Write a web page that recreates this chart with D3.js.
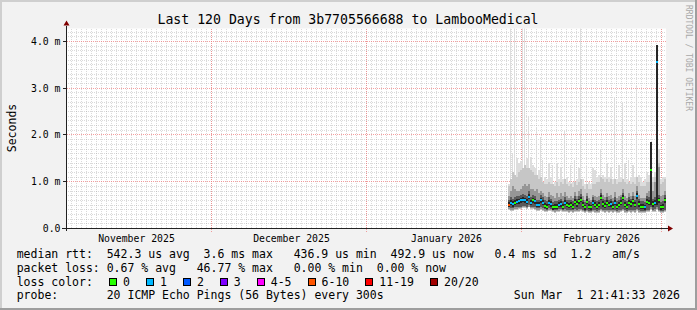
<!DOCTYPE html>
<html>
<head>
<meta charset="utf-8">
<script src="https://cdn.jsdelivr.net/npm/d3@7"></script>
<style>
  html, body { margin: 0; padding: 0; background: #f2f2f2; }
  svg { display: block; }
  text { font-family: "DejaVu Sans Mono", monospace; fill: #000; white-space: pre; }
</style>
</head>
<body>
<svg id="chart" width="697" height="310"></svg>
<script>
// time window of the graph (120 days ending at the graph timestamp)
const endTime = new Date(Date.UTC(2026, 2, 1, 21, 41, 33));
const startTime = new Date(endTime.getTime() - 120 * 864e5);

// y axis
const yMax = 4.278;
const yTicks = [0, 1, 2, 3, 4];
const yTickLabels = ["0.0", "1.0 m", "2.0 m", "3.0 m", "4.0 m"];

// x axis month labels
const monthLabels = ["November 2025", "December 2025", "January 2026", "February 2026"];
const monthLabelDates = [
  new Date(Date.UTC(2025, 10, 16)),
  new Date(Date.UTC(2025, 11, 17)),
  new Date(Date.UTC(2026, 0, 17)),
  new Date(Date.UTC(2026, 1, 17))
];

// samples: one every 9.6 hours from dataStart (values in ms)
const dataStart = new Date(Date.UTC(2026, 0, 29, 7, 0));
const stepHours = 9.6;
const median = [0.50,0.55,0.52,0.55,0.57,0.58,0.60,0.61,0.60,0.57, 0.68,0.55,0.60,0.58,0.50,0.50,0.60,0.55,0.48,0.46,
  0.55,0.52,0.45,0.46,0.47,0.50,0.52,0.47,0.55,0.50, 0.48,0.50,0.46,0.57,0.52,0.58,0.62,0.50,0.45,0.57,
  0.47,0.45,0.55,0.50,0.47,0.50,0.65,0.52,0.48,0.55, 0.50,0.52,0.47,0.55,0.46,0.50,0.55,0.65,0.50,0.47,
  0.55,0.52,0.58,0.50,0.69,0.52,0.46,0.47,0.45,0.57, 0.55,1.25,0.52,0.55,3.57,0.60,0.45,0.46,0.60,0.48];
const lossCount = [9,1,1,0,1,1,1,1,1,1, 1,1,0,1,1,1,1,1,0,0,
  1,1,0,0,0,1,1,0,1,0, 0,0,0,0,0,0,0,0,0,0,
  0,0,1,0,0,0,0,0,0,0, 0,1,0,1,0,0,0,0,0,0,
  0,0,0,0,1,0,0,0,1,0, 0,0,0,1,1,0,0,0,0,0];
const pingMin = [0.40,0.38,0.38,0.40,0.40,0.42,0.42,0.44,0.44,0.42, 0.45,0.42,0.42,0.40,0.38,0.38,0.40,0.38,0.36,0.35,
  0.38,0.37,0.35,0.34,0.35,0.36,0.37,0.35,0.36,0.35, 0.34,0.35,0.34,0.36,0.35,0.36,0.37,0.35,0.33,0.35,
  0.33,0.33,0.35,0.34,0.33,0.34,0.37,0.35,0.34,0.35, 0.34,0.35,0.34,0.35,0.33,0.34,0.35,0.37,0.34,0.33,
  0.35,0.34,0.35,0.34,0.37,0.34,0.33,0.33,0.33,0.35, 0.35,0.40,0.35,0.36,0.40,0.35,0.33,0.33,0.35,0.34];
const smokeDark = [0.70,0.80,0.90,0.85,0.80,0.80,0.85,0.90,0.95,0.90, 0.95,0.85,0.85,0.80,0.85,0.75,0.80,0.75,0.70,0.68,
  0.78,0.72,0.70,0.65,0.75,0.68,0.75,0.70,0.78,0.70, 0.65,0.70,0.65,0.78,0.70,0.80,0.85,0.70,0.62,0.75,
  0.65,0.62,0.72,0.70,0.68,0.70,0.85,0.72,0.68,0.75, 0.70,0.72,0.65,0.78,0.65,0.70,0.72,0.85,0.70,0.66,
  0.75,0.70,0.78,0.70,0.90,0.72,0.65,0.66,0.65,0.75, 0.80,1.85,0.80,1.00,3.92,1.32,0.70,0.72,0.80,0.75];
const smokeMid = [0.90,1.05,1.20,1.15,1.10,1.20,1.25,1.30,1.35,1.30, 1.30,1.25,1.20,1.15,1.15,1.05,1.10,1.00,0.95,0.95,
  1.00,0.95,0.95,0.90,1.00,0.90,1.00,0.95,1.05,0.95, 0.90,0.95,0.88,1.00,0.92,1.00,1.05,0.90,0.85,0.95,
  0.85,0.85,0.95,0.95,1.00,1.00,1.10,1.05,1.00,1.05, 1.00,1.05,0.95,1.05,0.95,1.00,1.00,1.05,1.00,0.95,
  1.00,0.95,1.00,0.95,1.10,1.00,0.90,0.90,0.90,1.00, 1.00,1.85,1.00,1.10,3.92,1.40,0.95,1.00,1.05,0.95];
const pingMax = [0.95,4.40,1.60,4.40,1.50,1.40,1.45,4.40,4.40,1.50, 2.39,1.54,1.35,1.30,2.15,1.25,1.96,1.47,1.10,1.05,
  1.40,1.10,1.35,1.00,1.40,1.05,1.32,1.05,2.10,1.10, 1.00,1.35,1.00,1.47,1.05,1.30,4.40,1.05,0.95,1.35,
  1.00,0.95,1.30,1.25,1.10,1.15,1.71,1.15,1.10,1.40, 1.10,1.30,1.05,2.82,1.05,1.35,1.10,2.68,1.40,1.05,
  1.47,1.10,1.35,1.10,3.07,1.15,1.10,1.00,1.05,1.20, 1.15,1.86,1.10,1.20,3.92,1.70,1.05,1.10,1.10,1.00];

// loss colour legend
const lossLabels = ["0", "1", "2", "3", "4-5", "6-10", "11-19", "20/20"];
const lossLimits = [0, 1, 2, 3, 5, 10, 19, 20];
const lossColors = ["#26ff00", "#00b8ff", "#0059ff", "#7e00ff", "#ff00ff", "#ff5500", "#ff0000", "#a10000"];

const legendRows = [
  "median rtt:  542.3 us avg  3.6 ms max   436.9 us min  492.9 us now   0.4 ms sd  1.2   am/s",
  "packet loss: 0.67 % avg   46.77 % max   0.00 % min  0.00 % now",
  "loss color:",
  "probe:       20 ICMP Echo Pings (56 Bytes) every 300s"
];
const stampText = "Sun Mar  1 21:41:33 2026";
const titleText = "Last 120 Days from 3b7705566688 to LambooMedical";

function draw() {
  const svg = d3.select("#chart");
  const W = 697, H = 310;

  const x = d3.scaleUtc().domain([startTime, endTime]).range([66, 666]);
  const y = d3.scaleLinear().domain([0, yMax]).range([228.5, 28.5]);
  const crisp = (v) => Math.floor(v) + 0.5;

  // background and shade frame
  svg.append("rect").attr("width", W).attr("height", H).attr("fill", "#f2f2f2");
  svg.append("rect").attr("x", 0).attr("y", 0).attr("width", W).attr("height", 2).attr("fill", "#cfcfcf");
  svg.append("rect").attr("x", 0).attr("y", 0).attr("width", 2).attr("height", H).attr("fill", "#cfcfcf");
  svg.append("rect").attr("x", 0).attr("y", H - 2).attr("width", W).attr("height", 2).attr("fill", "#9e9e9e");
  svg.append("rect").attr("x", W - 2).attr("y", 0).attr("width", 2).attr("height", H).attr("fill", "#9e9e9e");

  // canvas
  svg.append("rect")
    .attr("x", x.range()[0]).attr("y", y.range()[1])
    .attr("width", x.range()[1] - x.range()[0]).attr("height", y.range()[0] - y.range()[1])
    .attr("fill", "#ffffff");

  const grid = svg.append("g").attr("shape-rendering", "crispEdges");
  const minorColor = "rgba(140,140,140,0.32)";
  const majorColor = "rgba(240,120,120,0.7)";

  // minor grid
  d3.utcDay.range(startTime, endTime).forEach((d) => {
    grid.append("line")
      .attr("x1", crisp(x(d))).attr("x2", crisp(x(d)))
      .attr("y1", y.range()[1]).attr("y2", y.range()[0])
      .attr("stroke", minorColor).attr("stroke-dasharray", "1,1");
  });
  y.ticks(40).filter((v) => v > 0 && Math.abs(v - Math.round(v)) > 1e-6).forEach((v) => {
    grid.append("line")
      .attr("x1", x.range()[0]).attr("x2", x.range()[1])
      .attr("y1", crisp(y(v))).attr("y2", crisp(y(v)))
      .attr("stroke", minorColor).attr("stroke-dasharray", "1,1");
  });

  // major grid
  d3.utcMonth.range(startTime, endTime).forEach((d) => {
    grid.append("line")
      .attr("x1", crisp(x(d))).attr("x2", crisp(x(d)))
      .attr("y1", y.range()[1]).attr("y2", y.range()[0] + 3)
      .attr("stroke", majorColor).attr("stroke-dasharray", "1,1");
  });
  yTicks.filter((v) => v > 0).forEach((v) => {
    grid.append("line")
      .attr("x1", x.range()[0] - 3).attr("x2", x.range()[1])
      .attr("y1", crisp(y(v))).attr("y2", crisp(y(v)))
      .attr("stroke", majorColor).attr("stroke-dasharray", "1,1");
  });

  // smoke + median
  svg.append("clipPath").attr("id", "plot-clip")
    .append("rect")
    .attr("x", x.range()[0]).attr("y", y.range()[1])
    .attr("width", x.range()[1] - x.range()[0]).attr("height", y.range()[0] - y.range()[1]);

  const data = median.map((m, i) => ({
    t0: new Date(dataStart.getTime() + i * stepHours * 36e5),
    t1: new Date(dataStart.getTime() + (i + 1) * stepHours * 36e5),
    median: m,
    loss: lossCount[i],
    min: pingMin[i],
    dark: smokeDark[i],
    mid: smokeMid[i],
    max: pingMax[i]
  }));

  const plot = svg.append("g").attr("clip-path", "url(#plot-clip)").attr("shape-rendering", "crispEdges");

  // a high median means most pings were slow: the whole column goes dark
  const bands = [
    { lo: (d) => d.min, hi: (d) => d.max, color: "#dddddd", thin: true },
    { lo: (d) => d.min, hi: (d) => d.mid, color: "#c6c6c6" },
    { lo: (d) => d.min + 0.02, hi: (d) => d.dark, color: "#969696" },
    { lo: (d) => d.min + 0.05, hi: (d) => d.median > 1 ? d.dark : Math.min(d.dark, d.median + 0.12), color: "#5a5a5a" },
    { lo: (d) => d.median > 1 ? d.min + 0.1 : d.median - 0.05, hi: (d) => d.median > 1 ? d.dark : Math.min(d.dark, d.median + 0.06), color: "#262626" }
  ];
  bands.forEach((band) => {
    plot.append("g").selectAll("rect").data(data).join("rect")
      .attr("x", (d) => x(d.t0))
      .attr("width", (d) => band.thin && d.max - d.mid > 0.4 ? 1 : x(d.t1) - x(d.t0))
      .attr("y", (d) => y(band.hi(d)))
      .attr("height", (d) => Math.max(0, y(band.lo(d)) - y(band.hi(d))))
      .attr("fill", band.color);
  });

  const lossColor = (n) => lossColors[lossLimits.findIndex((l) => n <= l)];
  plot.append("g").selectAll("rect").data(data).join("rect")
    .attr("x", (d) => x(d.t0))
    .attr("width", (d) => x(d.t1) - x(d.t0))
    .attr("y", (d) => Math.round(y(d.median)) - 1)
    .attr("height", 2)
    .attr("fill", (d) => lossColor(d.loss));

  // axes
  const axis = svg.append("g").attr("shape-rendering", "crispEdges");
  axis.append("line")
    .attr("x1", x.range()[0] - 4).attr("x2", x.range()[1] + 2)
    .attr("y1", crisp(y(0))).attr("y2", crisp(y(0)))
    .attr("stroke", "#212121");
  axis.append("line")
    .attr("x1", crisp(x.range()[0])).attr("x2", crisp(x.range()[0]))
    .attr("y1", y.range()[0] + 2).attr("y2", y.range()[1] - 3)
    .attr("stroke", "#212121");
  yTicks.forEach((v) => {
    axis.append("line")
      .attr("x1", x.range()[0] - 3).attr("x2", x.range()[0])
      .attr("y1", crisp(y(v))).attr("y2", crisp(y(v)))
      .attr("stroke", "#212121");
  });
  const ax = crisp(x.range()[0]);
  const ayTop = y.range()[1] - 3;
  svg.append("path")
    .attr("d", `M${ax - 3},${ayTop} L${ax + 3},${ayTop} L${ax},${ayTop - 5} Z`)
    .attr("fill", "#800000");
  const axr = x.range()[1] + 2;
  const ay0 = crisp(y(0));
  svg.append("path")
    .attr("d", `M${axr},${ay0 - 3} L${axr},${ay0 + 3} L${axr + 5},${ay0} Z`)
    .attr("fill", "#800000");

  // axis labels
  const labels = svg.append("g").style("font-size", "9.8px");
  yTicks.forEach((v, i) => {
    labels.append("text")
      .attr("x", 60.5).attr("y", y(v) + 3.5)
      .attr("text-anchor", "end")
      .text(yTickLabels[i]);
  });
  monthLabels.forEach((m, i) => {
    labels.append("text")
      .attr("x", x(monthLabelDates[i])).attr("y", 242)
      .attr("text-anchor", "middle")
      .text(m);
  });

  svg.append("text")
    .attr("transform", "translate(15.5,128) rotate(-90)")
    .attr("text-anchor", "middle")
    .style("font-size", "11.5px")
    .text("Seconds");

  svg.append("text")
    .attr("x", 348).attr("y", 23.5)
    .attr("text-anchor", "middle")
    .style("font-size", "13.2px")
    .text(titleText);

  svg.append("text")
    .attr("transform", "translate(686,5) rotate(90)")
    .style("font-size", "8px")
    .style("fill", "#a8a8a8")
    .text("RRDTOOL / TOBI OETIKER");

  // legend
  const rowY = [258.3, 272, 285.7, 299.4];
  const legend = svg.append("g").style("font-size", "11.5px");
  legendRows.forEach((row, i) => {
    legend.append("text").attr("x", 16.7).attr("y", rowY[i]).text(row);
  });
  legend.append("text").attr("x", 680).attr("y", rowY[3]).attr("text-anchor", "end").text(stampText);

  const charW = 6.94;
  let bx = 109;
  lossLabels.forEach((lbl, i) => {
    legend.append("rect")
      .attr("x", bx + 0.5).attr("y", 278.5)
      .attr("width", 7).attr("height", 7)
      .attr("fill", lossColors[i]).attr("stroke", "#000").attr("stroke-width", 1)
      .attr("shape-rendering", "crispEdges");
    legend.append("text").attr("x", bx + 14).attr("y", rowY[2]).text(lbl);
    bx = bx + 14 + lbl.length * charW + 16;
  });
}

draw();
</script>
</body>
</html>
